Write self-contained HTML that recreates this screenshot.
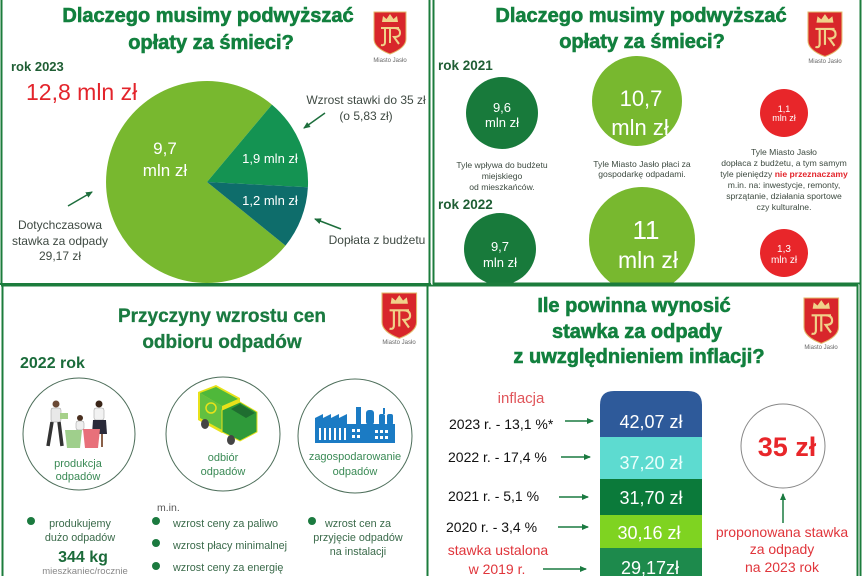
<!DOCTYPE html>
<html><head><meta charset="utf-8">
<style>
html,body{margin:0;padding:0;background:#fff;}
svg{display:block;}
text{font-family:"Liberation Sans",sans-serif;}
.tt{stroke:#12803e;stroke-width:0.6;}
</style></head>
<body>
<svg width="863" height="576" viewBox="0 0 863 576" xmlns="http://www.w3.org/2000/svg">
<defs>
<marker id="ah" markerWidth="8" markerHeight="8" refX="6" refY="4" orient="auto" markerUnits="userSpaceOnUse">
<path d="M0,1 L7,4 L0,7 Z" fill="#1d6e3c"/></marker>
<marker id="ah2" markerWidth="8" markerHeight="8" refX="6" refY="4" orient="auto" markerUnits="userSpaceOnUse">
<path d="M0,1 L7,4 L0,7 Z" fill="#1a7a40"/></marker>
</defs>
<rect width="863" height="576" fill="#fff"/>

<!-- ================= TOP LEFT ================= -->
<text class="tt" x="208" y="22" text-anchor="middle" font-size="20" font-weight="bold" fill="#12803e">Dlaczego musimy podwyższać</text>
<text class="tt" x="211" y="49" text-anchor="middle" font-size="20" font-weight="bold" fill="#12803e">opłaty za śmieci?</text>
<g transform="translate(374,12)">
 <path d="M0,0 H32 V27 Q32,36 16,42 Q0,36 0,27 Z" fill="#d8262b" stroke="#e3b96b" stroke-width="1"/>
 <path d="M8,10 L9,4 L12.5,7 L16,2 L19.5,7 L23,4 L24,10 Z" fill="#f0d28a"/>
 <path d="M7,16 H25 M11,16 V30 Q11,34 7,33 M16,16 V31 M20,16 Q26,16 26,21 Q26,25 20,25 L25,32" stroke="#f0d28a" stroke-width="2" fill="none"/>
</g>
<text x="390" y="62" text-anchor="middle" font-size="6" fill="#666">Miasto Jasło</text>

<text x="11" y="71" font-size="13" font-weight="bold" fill="#1f5e34">rok 2023</text>
<text x="26" y="100" font-size="23" fill="#e3242b">12,8 mln zł</text>

<path d="M207,182 L285.5,245.6 A101,101 0 1,1 271.9,104.6 Z" fill="#78b82f"/>
<path d="M207,182 L271.9,104.6 A101,101 0 0,1 307.9,187.3 Z" fill="#149352"/>
<path d="M207,182 L307.9,187.3 A101,101 0 0,1 285.5,245.6 Z" fill="#0e6d6b"/>
<text x="165" y="154" text-anchor="middle" font-size="17" fill="#fff">9,7</text>
<text x="165" y="176" text-anchor="middle" font-size="17" fill="#fff">mln zł</text>
<text x="270" y="163" text-anchor="middle" font-size="13" fill="#fff">1,9 mln zł</text>
<text x="270" y="205" text-anchor="middle" font-size="13" fill="#fff">1,2 mln zł</text>

<text x="366" y="104" text-anchor="middle" font-size="12" fill="#3f4a43">Wzrost stawki do 35 zł</text>
<text x="366" y="120" text-anchor="middle" font-size="12" fill="#3f4a43">(o 5,83 zł)</text>
<line x1="325" y1="113" x2="304" y2="128" stroke="#1d6e3c" stroke-width="1.5" marker-end="url(#ah)"/>
<text x="60" y="229" text-anchor="middle" font-size="12" fill="#3f4a43">Dotychczasowa</text>
<text x="60" y="245" text-anchor="middle" font-size="12" fill="#3f4a43">stawka za odpady</text>
<text x="60" y="260" text-anchor="middle" font-size="12" fill="#3f4a43">29,17 zł</text>
<line x1="68" y1="206" x2="92" y2="192" stroke="#1d6e3c" stroke-width="1.5" marker-end="url(#ah)"/>
<text x="377" y="244" text-anchor="middle" font-size="12" fill="#3f4a43">Dopłata z budżetu</text>
<line x1="341" y1="229" x2="315" y2="219" stroke="#1d6e3c" stroke-width="1.5" marker-end="url(#ah)"/>

<!-- ================= TOP RIGHT ================= -->
<text class="tt" x="641" y="22" text-anchor="middle" font-size="20" font-weight="bold" fill="#12803e">Dlaczego musimy podwyższać</text>
<text class="tt" x="642" y="48" text-anchor="middle" font-size="20" font-weight="bold" fill="#12803e">opłaty za śmieci?</text>
<g transform="translate(808,12) scale(1.06)">
 <path d="M0,0 H32 V27 Q32,36 16,42 Q0,36 0,27 Z" fill="#d8262b" stroke="#e3b96b" stroke-width="1"/>
 <path d="M8,10 L9,4 L12.5,7 L16,2 L19.5,7 L23,4 L24,10 Z" fill="#f0d28a"/>
 <path d="M7,16 H25 M11,16 V30 Q11,34 7,33 M16,16 V31 M20,16 Q26,16 26,21 Q26,25 20,25 L25,32" stroke="#f0d28a" stroke-width="2" fill="none"/>
</g>
<text x="825" y="63" text-anchor="middle" font-size="6" fill="#666">Miasto Jasło</text>

<text x="438" y="70" font-size="13.5" font-weight="bold" fill="#1f5e34">rok 2021</text>
<text x="438" y="209" font-size="13.5" font-weight="bold" fill="#1f5e34">rok 2022</text>

<circle cx="502" cy="113" r="36" fill="#187a3b"/>
<text x="502" y="112" text-anchor="middle" font-size="13" fill="#fff">9,6</text>
<text x="502" y="127" text-anchor="middle" font-size="13" fill="#fff">mln zł</text>

<circle cx="637" cy="101" r="45" fill="#78b82f"/>
<text x="641" y="106" text-anchor="middle" font-size="22" fill="#fff">10,7</text>
<text x="640" y="135" text-anchor="middle" font-size="22" fill="#fff">mln zł</text>

<circle cx="784" cy="113" r="24" fill="#e8262a"/>
<text x="784" y="112" text-anchor="middle" font-size="9" fill="#fff">1,1</text>
<text x="784" y="121" text-anchor="middle" font-size="9" fill="#fff">mln zł</text>

<g font-size="8.6" fill="#3d4a40" text-anchor="middle">
<text x="502" y="168">Tyle wpływa do budżetu</text>
<text x="502" y="179">miejskiego</text>
<text x="502" y="190">od mieszkańców.</text>
<text x="642" y="167">Tyle Miasto Jasło płaci za</text>
<text x="642" y="177">gospodarkę odpadami.</text>
<text x="784" y="155">Tyle Miasto Jasło</text>
<text x="784" y="166">dopłaca z budżetu, a tym samym</text>
<text x="784" y="177">tyle pieniędzy <tspan fill="#e3242b" font-weight="bold">nie przeznaczamy</tspan></text>
<text x="784" y="188">m.in. na: inwestycje, remonty,</text>
<text x="784" y="199">sprzątanie, działania sportowe</text>
<text x="784" y="210">czy kulturalne.</text>
</g>

<circle cx="500" cy="249" r="36" fill="#187a3b"/>
<text x="500" y="251" text-anchor="middle" font-size="13" fill="#fff">9,7</text>
<text x="500" y="267" text-anchor="middle" font-size="13" fill="#fff">mln zł</text>

<circle cx="642" cy="240" r="53" fill="#78b82f"/>
<text x="646" y="239" text-anchor="middle" font-size="26" fill="#fff">11</text>
<text x="648" y="268" text-anchor="middle" font-size="23" fill="#fff">mln zł</text>

<circle cx="784" cy="253" r="24" fill="#e8262a"/>
<text x="784" y="252" text-anchor="middle" font-size="10" fill="#fff">1,3</text>
<text x="784" y="263" text-anchor="middle" font-size="10" fill="#fff">mln zł</text>

<!-- cover below top panels -->
<rect x="0" y="285" width="863" height="291" fill="#fff"/>

<!-- ================= BOTTOM LEFT ================= -->
<text class="tt" x="222" y="322" text-anchor="middle" font-size="19" font-weight="bold" fill="#1a7a40" style="stroke:#1a7a40;stroke-width:0.3">Przyczyny wzrostu cen</text>
<text class="tt" x="222" y="348" text-anchor="middle" font-size="19" font-weight="bold" fill="#1a7a40" style="stroke:#1a7a40;stroke-width:0.3">odbioru odpadów</text>
<g transform="translate(382,293) scale(1.08)">
 <path d="M0,0 H32 V27 Q32,36 16,42 Q0,36 0,27 Z" fill="#d8262b" stroke="#e3b96b" stroke-width="1"/>
 <path d="M8,10 L9,4 L12.5,7 L16,2 L19.5,7 L23,4 L24,10 Z" fill="#f0d28a"/>
 <path d="M7,16 H25 M11,16 V30 Q11,34 7,33 M16,16 V31 M20,16 Q26,16 26,21 Q26,25 20,25 L25,32" stroke="#f0d28a" stroke-width="2" fill="none"/>
</g>
<text x="399" y="344" text-anchor="middle" font-size="6" fill="#666">Miasto Jasło</text>

<text x="20" y="368" font-size="16" font-weight="bold" fill="#1a6b3a">2022 rok</text>

<circle cx="79" cy="434" r="56" fill="none" stroke="#4d6e5a" stroke-width="1"/>
<circle cx="223" cy="434" r="57" fill="none" stroke="#4d6e5a" stroke-width="1"/>
<circle cx="355" cy="436" r="57" fill="none" stroke="#4d6e5a" stroke-width="1"/>

<!-- people icon -->
<g>
 <circle cx="56" cy="404" r="3.5" fill="#6b4a35"/>
 <rect x="51" y="408" width="10" height="14" rx="2" fill="#e8e8e8" stroke="#999" stroke-width="0.5"/>
 <path d="M52,422 L48,446 M59,422 L62,446" stroke="#333" stroke-width="3.5"/>
 <rect x="60" y="413" width="8" height="6" fill="#a6d08a"/>
 <circle cx="80" cy="418" r="3" fill="#4a3020"/>
 <rect x="76" y="421" width="8" height="9" rx="2" fill="#eee" stroke="#999" stroke-width="0.5"/>
 <circle cx="99" cy="404" r="3.5" fill="#3a2518"/>
 <rect x="94" y="408" width="10" height="12" rx="2" fill="#f2f2f2" stroke="#999" stroke-width="0.5"/>
 <path d="M93,420 L106,420 L107,434 L92,434 Z" fill="#2a2a3a"/>
 <path d="M97,434 L97,447 M102,434 L102,447" stroke="#8a6048" stroke-width="2"/>
 <path d="M65,430 H82 L80,448 H67 Z" fill="#9fcf8c"/>
 <path d="M83,429 H100 L98,448 H85 Z" fill="#e8707a"/>
</g>
<!-- truck icon -->
<g>
 <path d="M198,392 L216,385 L240,398 L240,425 L222,433 L198,420 Z" fill="#e8e21a"/>
 <path d="M200,393 L216,387 L238,399 L222,406 Z" fill="#4fb83a"/>
 <path d="M200,393 L222,406 L222,430 L200,418 Z" fill="#62c040"/>
 <circle cx="211" cy="408" r="5" fill="none" stroke="#e8e21a" stroke-width="1.5"/>
 <path d="M222,410 L240,402 L257,412 L257,432 L240,441 L222,432 Z" fill="#2f9a3a" stroke="#e8e21a" stroke-width="1"/>
 <path d="M240,404 L255,413 L246,418 L231,409 Z" fill="#1f6e30"/>
 <ellipse cx="205" cy="424" rx="4" ry="5" fill="#444"/>
 <ellipse cx="231" cy="440" rx="4" ry="5" fill="#444"/>
</g>
<!-- factory icon -->
<g fill="#1b7bc4">
 <rect x="315" y="424" width="80" height="19"/>
 <path d="M315,424 L315,418 L323,414 L323,418 L331,414 L331,418 L339,414 L339,418 L347,414 L347,424 Z"/>
 <rect x="356" y="407" width="5" height="18"/>
 <rect x="366" y="410" width="8" height="15" rx="3"/>
 <rect x="379" y="414" width="6" height="11" rx="2"/>
 <rect x="387" y="414" width="6" height="11" rx="2"/>
 <rect x="383" y="408" width="2" height="6"/>
</g>
<g fill="#fff">
 <rect x="319" y="428" width="2" height="12"/><rect x="324" y="428" width="2" height="12"/><rect x="329" y="428" width="2" height="12"/><rect x="334" y="428" width="2" height="12"/><rect x="339" y="428" width="2" height="12"/><rect x="344" y="428" width="2" height="12"/>
 <rect x="352" y="429" width="3" height="3"/><rect x="357" y="429" width="3" height="3"/><rect x="352" y="435" width="3" height="3"/><rect x="357" y="435" width="3" height="3"/>
 <rect x="375" y="430" width="3" height="3"/><rect x="380" y="430" width="3" height="3"/><rect x="385" y="430" width="3" height="3"/>
 <rect x="375" y="436" width="3" height="3"/><rect x="380" y="436" width="3" height="3"/><rect x="385" y="436" width="3" height="3"/>
</g>

<g font-size="11" fill="#3a8a55" text-anchor="middle">
<text x="78" y="467">produkcja</text>
<text x="78" y="480">odpadów</text>
<text x="223" y="461">odbiór</text>
<text x="223" y="475">odpadów</text>
<text x="355" y="460">zagospodarowanie</text>
<text x="355" y="475">odpadów</text>
</g>

<text x="157" y="511" font-size="10.5" fill="#555">m.in.</text>
<g fill="#1b7a3f">
<circle cx="31" cy="521" r="4"/>
<circle cx="156" cy="521" r="4"/>
<circle cx="156" cy="543" r="4"/>
<circle cx="156" cy="566" r="4"/>
<circle cx="312" cy="521" r="4"/>
</g>
<g font-size="10.8" fill="#3a6a4a">
<text x="80" y="527" text-anchor="middle">produkujemy</text>
<text x="80" y="541" text-anchor="middle">dużo odpadów</text>
<text x="173" y="527">wzrost ceny za paliwo</text>
<text x="173" y="549">wzrost płacy minimalnej</text>
<text x="173" y="571">wzrost ceny za energię</text>
<text x="358" y="527" text-anchor="middle">wzrost cen za</text>
<text x="358" y="541" text-anchor="middle">przyjęcie odpadów</text>
<text x="358" y="555" text-anchor="middle">na instalacji</text>
</g>
<text x="83" y="562" text-anchor="middle" font-size="16" font-weight="bold" fill="#1b6b3a">344 kg</text>
<text x="85" y="574" text-anchor="middle" font-size="9.5" fill="#888">mieszkaniec/rocznie</text>

<!-- ================= BOTTOM RIGHT ================= -->
<text class="tt" x="634" y="312" text-anchor="middle" font-size="20" font-weight="bold" fill="#12803e">Ile powinna wynosić</text>
<text class="tt" x="637" y="338" text-anchor="middle" font-size="20" font-weight="bold" fill="#12803e">stawka za odpady</text>
<text class="tt" x="639" y="363" text-anchor="middle" font-size="20" font-weight="bold" fill="#12803e">z uwzględnieniem inflacji?</text>
<g transform="translate(804,298) scale(1.08)">
 <path d="M0,0 H32 V27 Q32,36 16,42 Q0,36 0,27 Z" fill="#d8262b" stroke="#e3b96b" stroke-width="1"/>
 <path d="M8,10 L9,4 L12.5,7 L16,2 L19.5,7 L23,4 L24,10 Z" fill="#f0d28a"/>
 <path d="M7,16 H25 M11,16 V30 Q11,34 7,33 M16,16 V31 M20,16 Q26,16 26,21 Q26,25 20,25 L25,32" stroke="#f0d28a" stroke-width="2" fill="none"/>
</g>
<text x="821" y="349" text-anchor="middle" font-size="6" fill="#666">Miasto Jasło</text>

<text x="521" y="403" text-anchor="middle" font-size="15" fill="#e0555a">inflacja</text>
<g font-size="14" fill="#111">
<text x="449" y="429">2023 r. - 13,1 %*</text>
<text x="448" y="462">2022 r. - 17,4 %</text>
<text x="448" y="501">2021 r. - 5,1 %</text>
<text x="446" y="532">2020 r. - 3,4 %</text>
</g>
<text x="498" y="555" text-anchor="middle" font-size="14" fill="#e0353b">stawka ustalona</text>
<text x="497" y="574" text-anchor="middle" font-size="14" fill="#e0353b">w 2019 r.</text>
<g stroke="#1a7a40" stroke-width="1.5">
<line x1="565" y1="421" x2="593" y2="421" marker-end="url(#ah2)"/>
<line x1="561" y1="457" x2="590" y2="457" marker-end="url(#ah2)"/>
<line x1="559" y1="497" x2="588" y2="497" marker-end="url(#ah2)"/>
<line x1="558" y1="527" x2="588" y2="527" marker-end="url(#ah2)"/>
<line x1="543" y1="569" x2="586" y2="569" marker-end="url(#ah2)"/>
<line x1="783" y1="523" x2="783" y2="494" marker-end="url(#ah2)"/>
</g>

<path d="M600,437 V405 Q600,391 614,391 H688 Q702,391 702,405 V437 Z" fill="#2e5a9a"/>
<rect x="600" y="437" width="102" height="42" fill="#5ddbd0"/>
<rect x="600" y="479" width="102" height="36" fill="#0b7a3a"/>
<rect x="600" y="515" width="102" height="33" fill="#7fd321"/>
<rect x="600" y="548" width="102" height="28" fill="#1d8a4c"/>
<g font-size="18" fill="#fff" text-anchor="middle">
<text x="651" y="428">42,07 zł</text>
<text x="651" y="469" fill="#eafffb">37,20 zł</text>
<text x="651" y="504">31,70 zł</text>
<text x="649" y="539">30,16 zł</text>
<text x="650" y="574">29,17zł</text>
</g>

<circle cx="783" cy="446" r="42" fill="none" stroke="#888" stroke-width="1"/>
<text x="787" y="456" text-anchor="middle" font-size="27" font-weight="bold" fill="#e8262a">35 zł</text>
<g font-size="14" fill="#e0353b" text-anchor="middle">
<text x="782" y="537">proponowana stawka</text>
<text x="782" y="554">za odpady</text>
<text x="782" y="572">na 2023 rok</text>
</g>

<!-- ================= BORDERS ================= -->
<g stroke="#1c7c3c" stroke-width="2" fill="none">
<line x1="1.5" y1="0" x2="1.5" y2="284"/>
<line x1="429.5" y1="0" x2="429.5" y2="284"/>
<line x1="0" y1="284" x2="431" y2="284"/>
<line x1="433.5" y1="0" x2="433.5" y2="284"/>
<line x1="860.5" y1="0" x2="860.5" y2="576"/>
<line x1="433" y1="283.5" x2="861" y2="283.5"/>
<line x1="1" y1="285.5" x2="428" y2="285.5"/>
<line x1="2.5" y1="285" x2="2.5" y2="576"/>
<line x1="427.5" y1="285" x2="427.5" y2="576"/>
<line x1="428" y1="285.5" x2="858" y2="285.5"/>
<line x1="857.5" y1="285" x2="857.5" y2="576"/>
</g>
</svg>
</body></html>
